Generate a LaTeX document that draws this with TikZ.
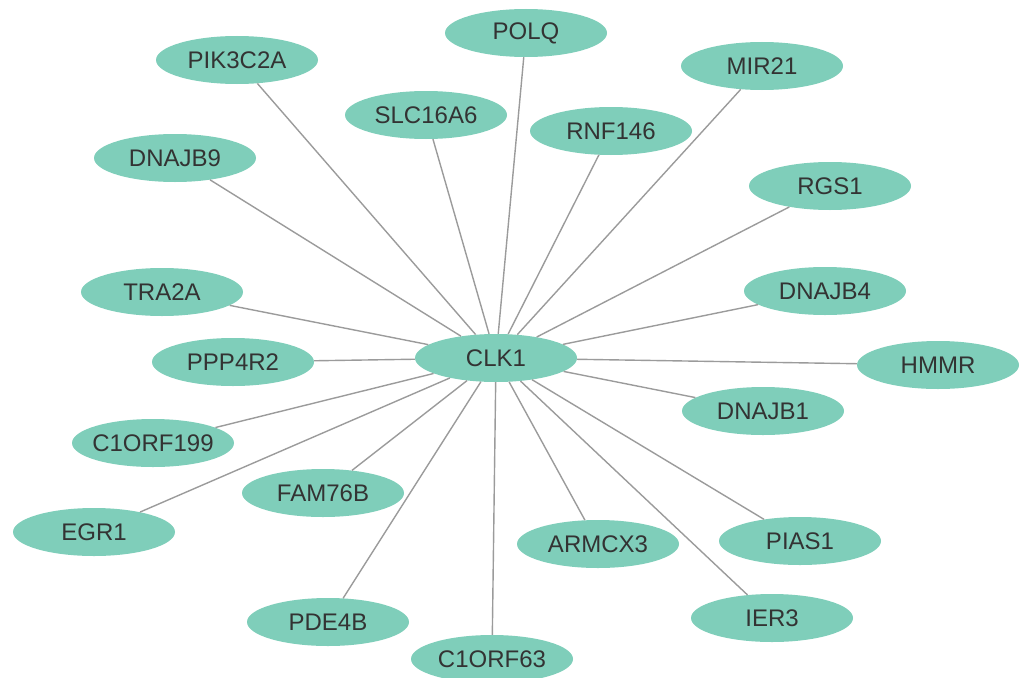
\documentclass[tikz,border=0pt]{standalone}
\usepackage{fontspec}
\setmainfont{Liberation Sans}
\usetikzlibrary{shapes,calc,positioning}
\definecolor{genegreen}{RGB}{127,206,186}
\definecolor{genetext}{RGB}{51,51,51}
\definecolor{edgegray}{RGB}{155,155,155}

\begin{document}
\begin{tikzpicture}[x=1pt,y=-1pt,
  gene/.style={ellipse,fill=genegreen,inner xsep=-20pt,inner ysep=0pt,minimum width=162pt,minimum height=48pt,text=genetext,font=\fontsize{24}{28}\selectfont},
  link/.style={draw=edgegray,line width=1.4pt}]
\useasboundingbox (0,0) rectangle (1027,677);
\node[gene] at (496,358) (clk) {CLK1};
\node[gene] at (526,33)  (polq) {POLQ};
\node[gene] at (237,60)  (pik) {PIK3C2A};
\node[gene] at (762,66)  (mir) {MIR21};
\node[gene] at (426,115) (slc) {SLC16A6};
\node[gene] at (611,131) (rnf) {RNF146};
\node[gene] at (175,158) (dnajb9) {DNAJB9};
\node[gene] at (830,186) (rgs) {RGS1};
\node[gene] at (162,292) (tra) {TRA2A};
\node[gene] at (825,291) (dnajb4) {DNAJB4};
\node[gene] at (233,362) (ppp) {PPP4R2};
\node[gene] at (938,365) (hmmr) {HMMR};
\node[gene] at (763,411) (dnajb1) {DNAJB1};
\node[gene] at (153,443) (orf199) {C1ORF199};
\node[gene] at (323,493) (fam) {FAM76B};
\node[gene] at (94,532)  (egr) {EGR1};
\node[gene] at (598,544) (armc) {ARMCX3};
\node[gene] at (800,541) (pias) {PIAS1};
\node[gene] at (328,622) (pde) {PDE4B};
\node[gene] at (772,618) (ier) {IER3};
\node[gene] at (492,659) (orf63) {C1ORF63};

\draw[link] (clk) -- (polq);
\draw[link] (clk) -- (pik);
\draw[link] (clk) -- (mir);
\draw[link] (clk) -- (slc);
\draw[link] (clk) -- (rnf);
\draw[link] (clk) -- (dnajb9);
\draw[link] (clk) -- (rgs);
\draw[link] (clk) -- (tra);
\draw[link] (clk) -- (dnajb4);
\draw[link] (clk) -- (ppp);
\draw[link] (clk) -- (hmmr);
\draw[link] (clk) -- (dnajb1);
\draw[link] (clk) -- (orf199);
\draw[link] (clk) -- (fam);
\draw[link] (clk) -- (egr);
\draw[link] (clk) -- (armc);
\draw[link] (clk) -- (pias);
\draw[link] (clk) -- (pde);
\draw[link] (clk) -- (ier);
\draw[link] (clk) -- (orf63);
\end{tikzpicture}
\end{document}
